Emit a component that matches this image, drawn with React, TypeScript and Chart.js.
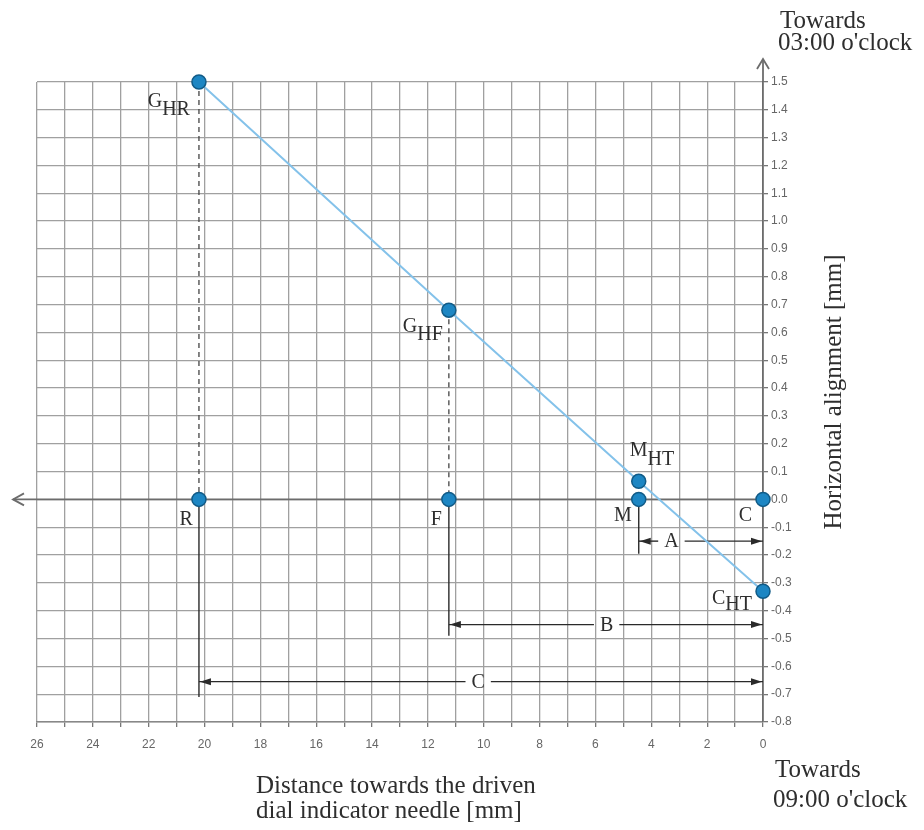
import React, { useEffect, useRef } from 'react';
import { Chart, registerables } from 'chart.js';

Chart.register(...registerables);

// ---- Data ----
// Points on the alignment (gap) line
const gapNames = ['G', 'G', 'M', 'C'];
const gapSubs = ['HR', 'HF', 'HT', 'HT'];
const gapX = [20.2, 11.25, 4.45, 0];
const gapY = [1.5, 0.68, 0.065, -0.33];

// Reference points on the zero line
const baseNames = ['R', 'F', 'M', 'C'];
const baseX = [20.2, 11.25, 4.45, 0];
const baseY = [0, 0, 0, 0];

// Dimension lines (from a point to the C line at x = 0)
const dimNames = ['A', 'B', 'C'];
const dimFrom = [4.45, 11.25, 20.2];
const dimTo = [0, 0, 0];
const dimY = [-0.15, -0.45, -0.655];
const dimExtEnd = [-0.195, -0.49, -0.71];
const dimLabelX = [3.28, 5.6, 10.2];

// Dashed projections (gap point -> zero line)
const projX = [20.2, 11.25];
const projTop = [1.5, 0.68];

// Axes
const xMin = 0;
const xMax = 26;
const xStep = 1;
const xLabelEvery = 2;
const yMin = -0.8;
const yMax = 1.5;
const yStep = 0.1;

const titleTop = ['Towards', "03:00 o'clock"];
const titleBottomRight = ['Towards', "09:00 o'clock"];
const xTitle = ['Distance towards the driven', 'dial indicator needle [mm]'];
const yTitle = 'Horizontal alignment [mm]';

// ---- Layout / style (not data) ----
const gapLabelPos = [
  { align: 'right', dx: -9, dy: 25, sub: 8 },
  { align: 'right', dx: -6, dy: 22, sub: 8 },
  { align: 'left', dx: -9, dy: -25, sub: 9 },
  { align: 'right', dx: -11, dy: 13, sub: 6 },
];
const baseLabelPos = [
  { dx: -6, dy: 26 },
  { dx: -7, dy: 26 },
  { dx: -7, dy: 22 },
  { dx: -11, dy: 22 },
];

const SERIF = '"Liberation Serif", "Times New Roman", serif';
const SANS = '"Liberation Sans", Arial, sans-serif';
const TEXT = '#2e2e2e';
const AXIS = '#6c6c6c';
const GRID = '#a0a0a0';
const DIM = '#2a2a2a';

function line(ctx: CanvasRenderingContext2D, x1: number, y1: number, x2: number, y2: number) {
  ctx.beginPath();
  ctx.moveTo(x1, y1);
  ctx.lineTo(x2, y2);
  ctx.stroke();
}

function filledArrow(ctx: CanvasRenderingContext2D, tipX: number, tipY: number, dir: number) {
  ctx.beginPath();
  ctx.moveTo(tipX, tipY);
  ctx.lineTo(tipX - dir * 11, tipY - 3.5);
  ctx.lineTo(tipX - dir * 11, tipY + 3.5);
  ctx.closePath();
  ctx.fill();
}

function subLabel(
  ctx: CanvasRenderingContext2D,
  main: string,
  sub: string,
  px: number,
  py: number,
  align: string,
  dx: number,
  dy: number,
  subDy: number
) {
  ctx.font = `20px ${SERIF}`;
  const w1 = ctx.measureText(main).width;
  const w2 = sub ? ctx.measureText(sub).width : 0;
  const left = align === 'right' ? px + dx - w1 - w2 : px + dx;
  ctx.textAlign = 'left';
  ctx.textBaseline = 'alphabetic';
  ctx.fillStyle = TEXT;
  ctx.fillText(main, left, py + dy);
  if (sub) ctx.fillText(sub, left + w1, py + dy + subDy);
}

const annotations = {
  id: 'annotations',
  beforeDatasetsDraw(chart: any) {
    const { ctx, chartArea } = chart;
    const xs = chart.scales.x;
    const ys = chart.scales.y;
    const x0 = xs.getPixelForValue(0);
    const y0 = ys.getPixelForValue(0);
    ctx.save();

    ctx.strokeStyle = AXIS;
    ctx.lineWidth = 1.8;
    line(ctx, 13, y0, x0, y0);
    ctx.beginPath();
    ctx.moveTo(24, y0 - 6);
    ctx.lineTo(13, y0);
    ctx.lineTo(24, y0 + 6);
    ctx.stroke();

    line(ctx, x0, chartArea.top, x0, 59);
    ctx.beginPath();
    ctx.moveTo(x0 - 6, 69);
    ctx.lineTo(x0, 59);
    ctx.lineTo(x0 + 6, 69);
    ctx.stroke();

    ctx.strokeStyle = '#444';
    ctx.lineWidth = 1.3;
    ctx.setLineDash([5, 4]);
    projX.forEach((px, i) => {
      const xp = xs.getPixelForValue(px);
      line(ctx, xp, ys.getPixelForValue(projTop[i]), xp, y0);
    });
    ctx.setLineDash([]);

    ctx.strokeStyle = DIM;
    ctx.fillStyle = DIM;
    ctx.lineWidth = 1.4;
    ctx.font = `20px ${SERIF}`;
    dimNames.forEach((name, i) => {
      const xa = xs.getPixelForValue(dimFrom[i]);
      const xb = xs.getPixelForValue(dimTo[i]);
      const yd = ys.getPixelForValue(dimY[i]);
      line(ctx, xa, y0, xa, ys.getPixelForValue(dimExtEnd[i]));
      const xl = xs.getPixelForValue(dimLabelX[i]);
      const w = ctx.measureText(name).width;
      const gapL = xl - w / 2 - 6;
      const gapR = xl + w / 2 + 6;
      line(ctx, xa, yd, gapL, yd);
      line(ctx, gapR, yd, xb, yd);
      filledArrow(ctx, xa + 1, yd, -1);
      filledArrow(ctx, xb - 1, yd, 1);
      ctx.textAlign = 'center';
      ctx.textBaseline = 'middle';
      ctx.fillStyle = TEXT;
      ctx.fillText(name, xl, yd + 1);
      ctx.fillStyle = DIM;
    });

    ctx.restore();
  },
  afterDatasetsDraw(chart: any) {
    const { ctx } = chart;
    const xs = chart.scales.x;
    const ys = chart.scales.y;
    ctx.save();

    gapNames.forEach((n, i) => {
      const p = gapLabelPos[i];
      subLabel(ctx, n, gapSubs[i], xs.getPixelForValue(gapX[i]), ys.getPixelForValue(gapY[i]), p.align, p.dx, p.dy, p.sub);
    });
    baseNames.forEach((n, i) => {
      const p = baseLabelPos[i];
      subLabel(ctx, n, '', xs.getPixelForValue(baseX[i]), ys.getPixelForValue(baseY[i]), 'right', p.dx, p.dy, 0);
    });

    ctx.fillStyle = TEXT;
    ctx.font = `25px ${SERIF}`;
    ctx.textAlign = 'left';
    ctx.textBaseline = 'alphabetic';
    ctx.fillText(titleTop[0], 780, 28);
    ctx.fillText(titleTop[1], 778, 50);
    ctx.fillText(titleBottomRight[0], 775, 777);
    ctx.fillText(titleBottomRight[1], 773, 807);
    ctx.fillText(xTitle[0], 256, 793);
    ctx.fillText(xTitle[1], 256, 818);

    ctx.save();
    ctx.translate(841, 392);
    ctx.rotate(-Math.PI / 2);
    ctx.textAlign = 'center';
    ctx.fillText(yTitle, 0, 0);
    ctx.restore();

    ctx.restore();
  },
};

export default function App() {
  const canvasRef = useRef<HTMLCanvasElement | null>(null);

  useEffect(() => {
    const canvas = canvasRef.current;
    if (!canvas) return;

    const pointStyle = {
      pointRadius: 7,
      pointHoverRadius: 7,
      pointBackgroundColor: '#1d86c3',
      pointBorderColor: '#115b87',
      pointBorderWidth: 1.5,
    };

    const chart = new Chart(canvas, {
      type: 'scatter',
      data: {
        datasets: [
          {
            label: 'Gap line',
            data: gapX.map((x, i) => ({ x, y: gapY[i] })),
            showLine: true,
            borderColor: '#84c2ea',
            borderWidth: 2,
            clip: false,
            ...pointStyle,
          },
          {
            label: 'Reference points',
            data: baseX.map((x, i) => ({ x, y: baseY[i] })),
            showLine: false,
            clip: false,
            ...pointStyle,
          },
        ],
      },
      options: {
        animation: false,
        responsive: false,
        devicePixelRatio: 1,
        events: [],
        layout: { padding: { left: 37, top: 82, right: 101, bottom: 68 } },
        plugins: {
          legend: { display: false },
          tooltip: { enabled: false },
          title: { display: false },
        },
        scales: {
          x: {
            type: 'linear',
            reverse: true,
            min: xMin,
            max: xMax,
            afterFit: (s: any) => {
              s.height = 40;
            },
            grid: {
              color: GRID,
              lineWidth: 1.3,
              drawTicks: true,
              tickLength: 5,
              tickColor: '#777',
            },
            border: { display: true, color: '#888', width: 1.4 },
            ticks: {
              stepSize: xStep,
              autoSkip: false,
              maxRotation: 0,
              padding: 10,
              color: '#666',
              font: { family: SANS, size: 12 },
              callback: (v: any) => {
                const n = Math.round(Number(v));
                return n % xLabelEvery === 0 ? String(n) : '';
              },
            },
          },
          y: {
            type: 'linear',
            position: 'right',
            min: yMin,
            max: yMax,
            afterFit: (s: any) => {
              s.width = 60;
            },
            grid: {
              color: GRID,
              lineWidth: 1.3,
              drawTicks: true,
              tickLength: 5,
              tickColor: '#777',
            },
            border: { display: true, color: AXIS, width: 1.8 },
            ticks: {
              stepSize: yStep,
              autoSkip: false,
              padding: 3,
              color: '#666',
              font: { family: SANS, size: 12 },
              callback: (v: any) => {
                const n = Number(v);
                return (Math.abs(n) < 1e-9 ? 0 : n).toFixed(1);
              },
            },
          },
        },
      },
      plugins: [annotations],
    } as any);

    return () => {
      chart.destroy();
    };
  }, []);

  return (
    <div style={{ position: 'absolute', left: 0, top: 0, width: 924, height: 830, background: '#fff' }}>
      <canvas ref={canvasRef} width={924} height={830} style={{ display: 'block' }} />
    </div>
  );
}
